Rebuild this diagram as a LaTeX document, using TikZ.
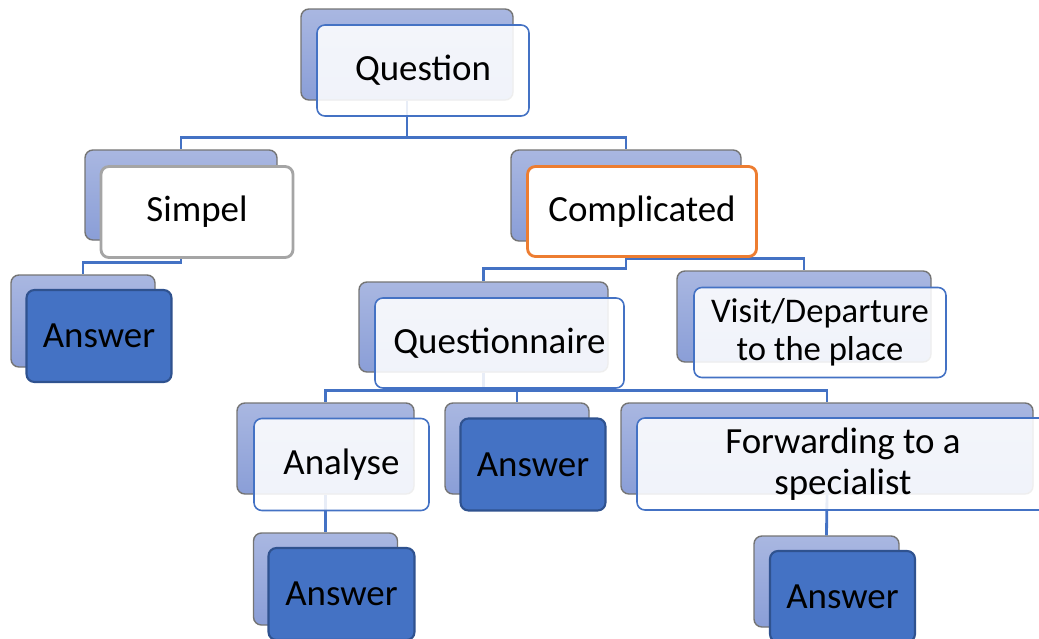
\documentclass[tikz,border=0pt]{standalone}
\usepackage{fontspec}
\setmainfont{Carlito}
\usetikzlibrary{positioning}
\definecolor{TreeBlue}{HTML}{4472C4}
\definecolor{TreeNavy}{HTML}{2F528F}
\definecolor{TreeOrange}{HTML}{ED7D31}
\definecolor{TreeGrey}{HTML}{A5A5A5}
\definecolor{TreeEdge}{HTML}{747474}
\definecolor{TreeLight}{HTML}{A9B7E1}
\definecolor{TreeDark}{HTML}{8A9ED7}
\tikzset{
  every node/.style={font=\fontsize{21}{23}\selectfont, text=black, align=center},
  cardsize/.style 2 args={minimum width=#1*0.02cm, minimum height=#2*0.02cm, inner sep=0pt},
  backcard/.style={draw=TreeEdge, line width=0.8pt, rounded corners=4.5pt, top color=TreeLight, bottom color=TreeDark},
  frontcard/.style={draw=TreeBlue, line width=0.9pt, rounded corners=4.5pt, fill=white, fill opacity=0.88, text opacity=1},
  plaincard/.style={draw=TreeGrey, line width=1.6pt, rounded corners=4.5pt, fill=white},
  keycard/.style={draw=TreeOrange, line width=1.6pt, rounded corners=4.5pt, fill=white},
  answercard/.style={draw=TreeNavy, line width=1.2pt, rounded corners=4.5pt, fill=TreeBlue},
  link/.style={draw=TreeBlue, line width=1.6pt},
}

\begin{document}
\begin{tikzpicture}[x=0.02cm,y=-0.02cm]
  \useasboundingbox (0,0) rectangle (1039,639);
  \clip (0,0) rectangle (1039,639);
  % Back cards (tree nodes)
  \node[backcard, cardsize={212}{91}] (questB) at (407,54.5) {};
  \node[backcard, cardsize={192}{90}] (simpelB) at (181,195) {};
  \node[backcard, cardsize={230}{91}] (complB) at (626,195.5) {};
  \node[backcard, cardsize={144}{92}] (ansaB) at (83,321) {};
  \node[backcard, cardsize={249}{90}] (qnaireB) at (483.5,327) {};
  \node[backcard, cardsize={254}{91}] (visitB) at (804,316.5) {};
  \node[backcard, cardsize={177}{91}] (analyseB) at (325.5,448.5) {};
  \node[backcard, cardsize={144}{91}] (ansbB) at (517,448.5) {};
  \node[backcard, cardsize={412}{91}] (forwardB) at (827,448.5) {};
  \node[backcard, cardsize={144}{92}] (anscB) at (325.5,579) {};
  \node[backcard, cardsize={145}{91}] (ansdB) at (826.5,581.5) {};
  % Connectors
  \foreach \kid in {simpelB,complB} \draw[link] (questB.south) -- ++(0,37) -| (\kid.north);
  \draw[link] (simpelB.south) -- ++(0,22) -| (ansaB.north);
  \draw[link] (complB.south) -- ++(0,27) -| (qnaireB.north);
  \draw[link] (complB.south) -- ++(0,17) -| (visitB.north);
  \foreach \kid in {analyseB,ansbB,forwardB} \draw[link] (qnaireB.south) -- ++(0,18) -| (\kid.north);
  \draw[link] (analyseB.south) -- (anscB.north);
  \draw[link] (forwardB.south) -- (ansdB.north);
  % Front cards with the labels
  \node[frontcard, cardsize={212}{91}] (questF) at ([shift={(16,16)}]questB.center) {Question};
  \node[plaincard, cardsize={192}{91}] (simpelF) at ([shift={(16,17)}]simpelB.center) {Simpel};
  \node[keycard, cardsize={229}{90}] (complF) at ([shift={(16,16)}]complB.center) {Complicated};
  \node[answercard, cardsize={145}{92}] (ansaF) at ([shift={(16,15)}]ansaB.center) {Answer};
  \node[frontcard, cardsize={249}{90}] (qnaireF) at ([shift={(16,16)}]qnaireB.center) {Questionnaire};
  \node[frontcard, cardsize={252}{90}, font=\fontsize{19.7}{21.6}\selectfont] (visitF) at ([shift={(16,16)}]visitB.center) {Visit/Departure\\to the place};
  \node[frontcard, cardsize={175}{92}] (analyseF) at ([shift={(16,16)}]analyseB.center) {Analyse};
  \node[answercard, cardsize={145}{92}] (ansbF) at ([shift={(16,16)}]ansbB.center) {Answer};
  \node[frontcard, cardsize={412}{92}] (forwardF) at ([shift={(16,15.5)}]forwardB.center) {Forwarding to a\\specialist};
  \node[answercard, cardsize={146}{92}] (anscF) at ([shift={(16,15)}]anscB.center) {Answer};
  \node[answercard, cardsize={145}{91}] (ansdF) at ([shift={(16,15)}]ansdB.center) {Answer};
\end{tikzpicture}
\end{document}
